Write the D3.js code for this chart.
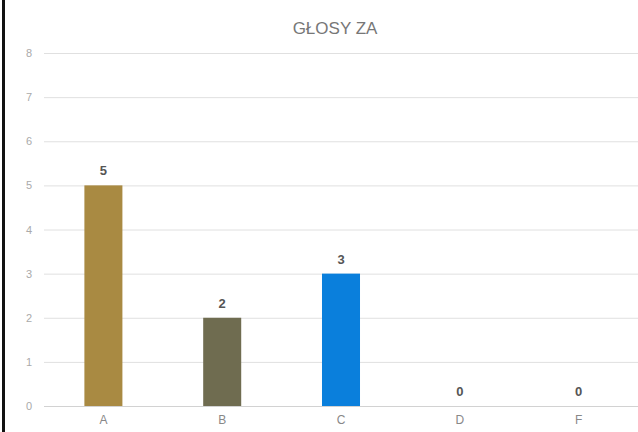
<!DOCTYPE html>
<html>
<head>
<meta charset="utf-8">
<script src="https://cdn.jsdelivr.net/npm/d3@7"></script>
<style>
  body { margin: 0; background: #fff; }
  svg text { font-family: Arial, "Liberation Sans", sans-serif; }
</style>
</head>
<body>
<div id="chart"></div>
<script>
const TITLE = "GŁOSY ZA";
const CATEGORIES = ["A", "B", "C", "D", "F"];
const VALUES = [5, 2, 3, 0, 0];
const BAR_COLORS = ["#a98a42", "#6f6c50", "#0a7fdc", "#888888", "#888888"];
const Y_TICKS = [0, 1, 2, 3, 4, 5, 6, 7, 8];

const SVG_WIDTH = 638;
const SVG_HEIGHT = 432;
const X_LEFT = 44;
const X_RIGHT = 638;
const Y_TOP = 53;
const Y_BOTTOM = 406;

const svg = d3.select("#chart")
  .append("svg")
  .attr("width", SVG_WIDTH)
  .attr("height", SVG_HEIGHT);

const xScale = d3.scaleBand()
  .domain(CATEGORIES)
  .range([X_LEFT, X_RIGHT])
  .paddingInner(0.68)
  .paddingOuter(0.34);

const yScale = d3.scaleLinear()
  .domain([0, 8])
  .range([Y_BOTTOM, Y_TOP]);

// left border of the scanned page
svg.append("rect")
  .attr("x", 2).attr("y", 0)
  .attr("width", 3).attr("height", SVG_HEIGHT)
  .attr("fill", "#111");

// grid lines
svg.append("g")
  .attr("class", "grid")
  .selectAll("line")
  .data(Y_TICKS)
  .join("line")
  .attr("x1", X_LEFT)
  .attr("x2", X_RIGHT)
  .attr("y1", d => yScale(d) + 0.5)
  .attr("y2", d => yScale(d) + 0.5)
  .attr("stroke", d => d === 0 ? "#d2d2d2" : "#e0e0e0")
  .attr("stroke-width", 1);

// y axis labels
const yAxis = svg.append("g")
  .attr("transform", `translate(${X_LEFT - 8},0)`)
  .call(d3.axisLeft(yScale).tickValues(Y_TICKS).tickSize(0).tickPadding(4));
yAxis.select(".domain").remove();
yAxis.selectAll("text")
  .style("font-size", "11px")
  .style("fill", "#aaaaaa");

// x axis labels
const xAxis = svg.append("g")
  .attr("transform", `translate(0,${Y_BOTTOM})`)
  .call(d3.axisBottom(xScale).tickSize(0).tickPadding(9));
xAxis.select(".domain").remove();
xAxis.selectAll("text")
  .style("font-size", "12px")
  .style("fill", "#888888");

// bars
svg.append("g")
  .selectAll("rect")
  .data(VALUES)
  .join("rect")
  .attr("x", (d, i) => xScale(CATEGORIES[i]))
  .attr("y", d => yScale(d))
  .attr("width", xScale.bandwidth())
  .attr("height", d => yScale(0) - yScale(d))
  .attr("fill", (d, i) => BAR_COLORS[i]);

// value labels
svg.append("g")
  .selectAll("text")
  .data(VALUES)
  .join("text")
  .attr("x", (d, i) => xScale(CATEGORIES[i]) + xScale.bandwidth() / 2)
  .attr("y", d => yScale(d) - 10)
  .attr("text-anchor", "middle")
  .style("font-size", "13px")
  .style("font-weight", "bold")
  .style("fill", "#555555")
  .text(d => d);

// title
svg.append("text")
  .attr("x", 335)
  .attr("y", 34)
  .attr("text-anchor", "middle")
  .style("font-size", "17px")
  .style("fill", "#777777")
  .text(TITLE);
</script>
</body>
</html>
